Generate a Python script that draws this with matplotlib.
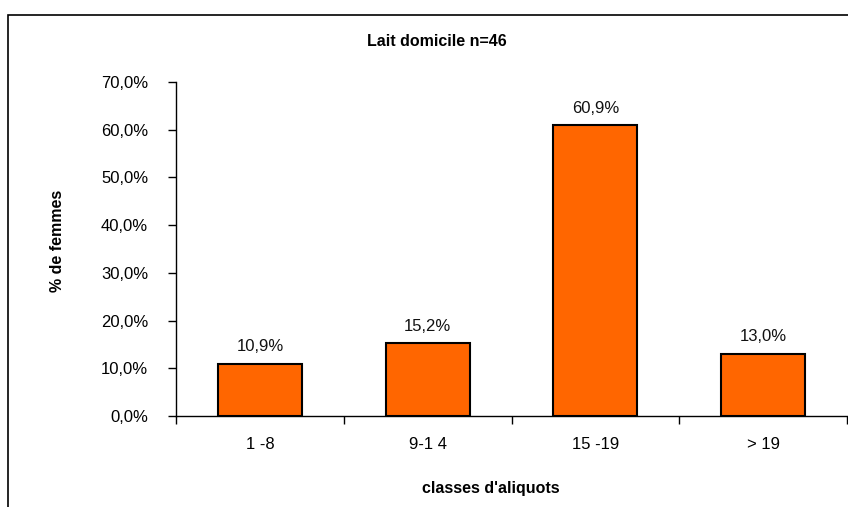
import matplotlib
matplotlib.use("Agg")
import matplotlib.pyplot as plt
from matplotlib.patches import Rectangle
from matplotlib.ticker import FuncFormatter

categories = ["1 -8", "9-1 4", "15 -19", "> 19"]
values = [10.9, 15.2, 60.9, 13.0]
value_labels = ["10,9%", "15,2%", "60,9%", "13,0%"]
y_ticks = [0, 10, 20, 30, 40, 50, 60, 70]

plt.rcParams["font.family"] = ["Liberation Sans", "DejaVu Sans"]

fig = plt.figure(figsize=(8.48, 5.07), dpi=100)
fig.patch.set_facecolor("white")

# outer chart frame
fig.patches.append(Rectangle((8 / 848, -0.05), 1.0, 1.05 - 15 / 507,
                             transform=fig.transFigure, fill=False,
                             edgecolor="black", linewidth=1.2))

ax = fig.add_axes([176 / 848, 1 - 416 / 507, (847 - 176) / 848, (416 - 82) / 507])
x = range(len(categories))
ax.bar(x, values, width=0.5, color="#FF6600", edgecolor="black", linewidth=1.5, zorder=3)

for xi, v, lab in zip(x, values, value_labels):
    ax.annotate(lab, (xi, v), xytext=(0, 7), textcoords="offset points",
                ha="center", va="bottom", fontsize=12, color="#111111")

ax.set_xlim(-0.5, len(categories) - 0.5)
ax.set_ylim(0, 70)
ax.set_yticks(y_ticks)
ax.yaxis.set_major_formatter(FuncFormatter(lambda v, p: f"{v:.1f}%".replace(".", ",")))

# ticks between categories, labels centred under bars
ax.set_xticks([i - 0.5 for i in range(len(categories) + 1)])
ax.set_xticklabels([])
ax.set_xticks(list(x), minor=True)
ax.set_xticklabels(categories, minor=True)
ax.tick_params(axis="x", which="major", direction="out", length=6, width=1)
ax.tick_params(axis="x", which="minor", length=0, pad=15, labelsize=12)
ax.tick_params(axis="y", direction="out", length=6, width=1, pad=14, labelsize=12)

for side in ("top", "right"):
    ax.spines[side].set_visible(False)
for side in ("left", "bottom"):
    ax.spines[side].set_linewidth(1)

fig.text(437 / 848, 1 - 42 / 507, "Lait domicile n=46", ha="center", va="center",
         fontsize=11.5, fontweight="bold")
fig.text(491 / 848, 1 - 488 / 507, "classes d'aliquots", ha="center", va="center",
         fontsize=11.5, fontweight="bold")
fig.text(57 / 848, 1 - 241 / 507, "% de femmes", ha="center", va="center",
         rotation=90, fontsize=11.5, fontweight="bold")

fig.savefig("out.png", dpi=100)
